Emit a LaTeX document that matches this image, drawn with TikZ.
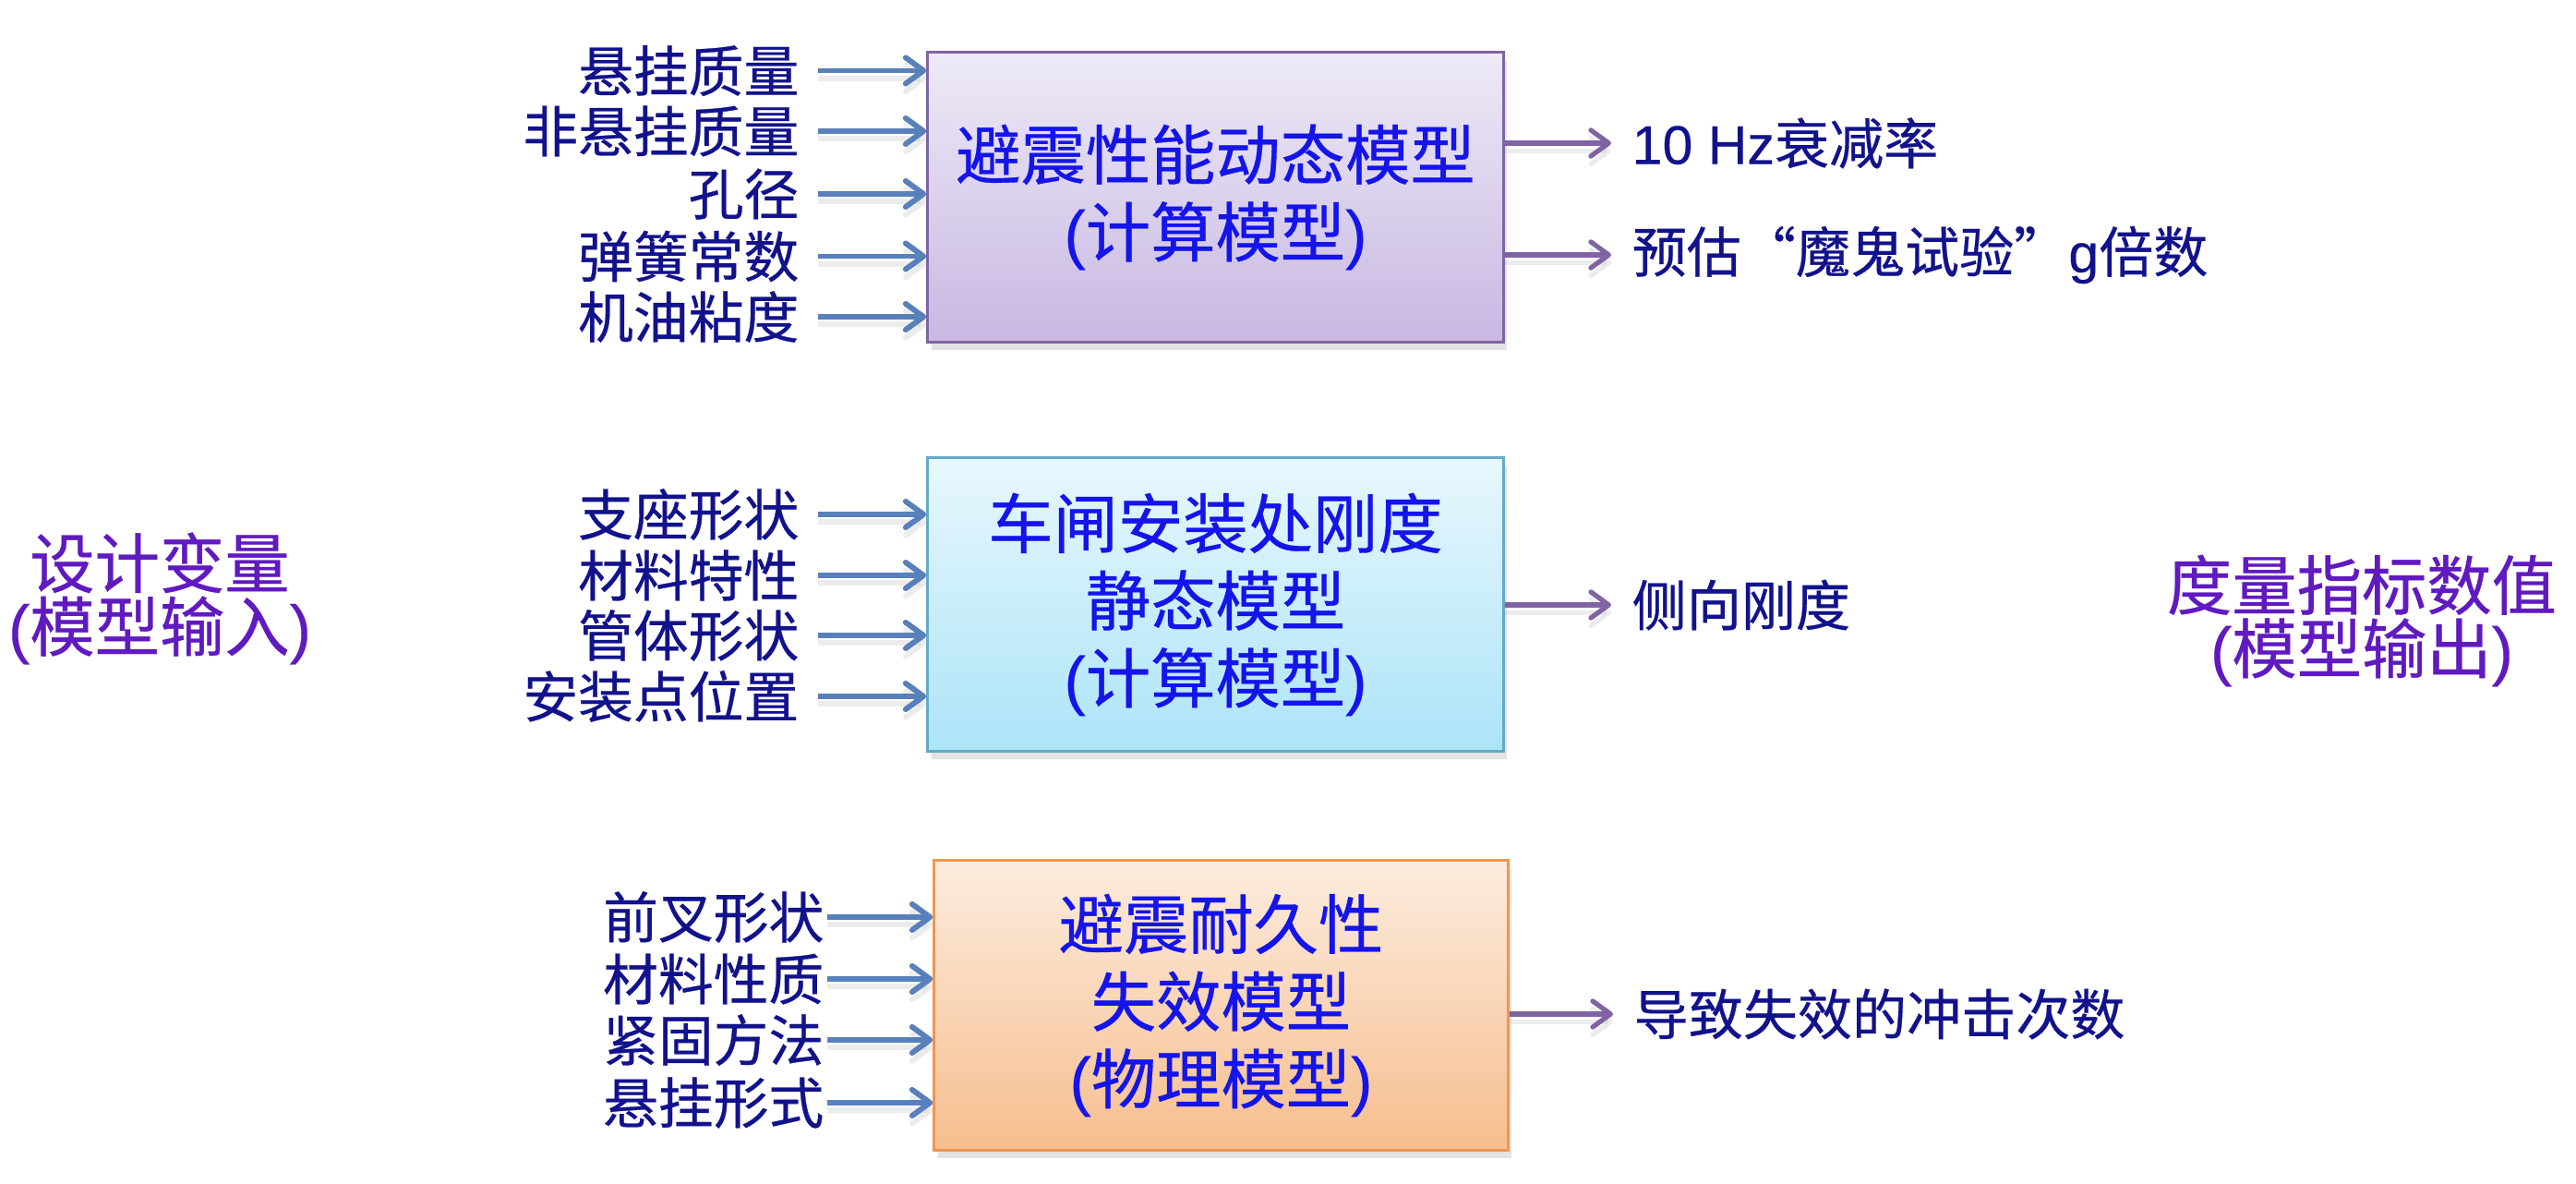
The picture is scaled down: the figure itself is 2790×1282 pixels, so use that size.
\documentclass[tikz,border=0pt]{standalone}
\usepackage{fontspec}
\setmainfont{Noto Sans CJK SC}[FakeBold=0.5]
\newfontfamily\latinfont{Liberation Sans}[FakeBold=0.3]
\usetikzlibrary{arrows.meta,shadows}

\newcommand{\latn}[1]{{\latinfont #1}}

\definecolor{labelnavy}{RGB}{18,18,140}
\definecolor{boxblue}{RGB}{20,20,235}
\definecolor{sidepurple}{RGB}{96,26,192}
\definecolor{inblue}{RGB}{88,128,186}
\definecolor{outpurple}{RGB}{128,100,162}
\definecolor{dynborder}{RGB}{128,100,162}
\definecolor{dyntop}{RGB}{238,234,247}
\definecolor{dynbot}{RGB}{200,184,226}
\definecolor{statborder}{RGB}{100,170,196}
\definecolor{stattop}{RGB}{232,247,253}
\definecolor{statbot}{RGB}{172,228,248}
\definecolor{durborder}{RGB}{240,150,80}
\definecolor{durtop}{RGB}{252,236,222}
\definecolor{durbot}{RGB}{246,190,142}

\tikzset{
  modelbox/.style={draw, line width=0.9pt, align=center, text=boxblue,
    font=\fontsize{20}{23.8}\selectfont, inner sep=0pt,
    drop shadow={opacity=0.22, shadow xshift=0.04cm, shadow yshift=-0.09cm}},
  inlabel/.style={anchor=east, inner sep=0pt, text=labelnavy,
    font=\fontsize{17}{20}\selectfont},
  outlabel/.style={anchor=west, inner sep=0pt, text=labelnavy,
    font=\fontsize{16.8}{20}\selectfont},
  sidelabel/.style={align=center, text=sidepurple, inner sep=0pt,
    font=\fontsize{20}{19.5}\selectfont},
  flowtip/.style={-{Straight Barb[length=5.5pt, width=8pt, line cap=round, line join=round]}},
  inarrow/.style={flowtip, draw=inblue, line width=1.7pt,
    preaction={draw=black!25, line width=1.7pt, transform canvas={yshift=-2.4pt}, opacity=0.3}},
  outarrow/.style={flowtip, draw=outpurple, line width=1.5pt,
    preaction={draw=black!25, line width=1.5pt, transform canvas={yshift=-2.4pt}, opacity=0.3}},
}

\begin{document}
\begin{tikzpicture}[x=0.01cm, y=-0.01cm]
\useasboundingbox (0,0) rectangle (2790,1282);

% model blocks
\node[modelbox, draw=dynborder, top color=dyntop, bottom color=dynbot,
  minimum width=6.23cm, minimum height=3.13cm] (dyn) at (1316.5,213.5)
  {避震性能动态模型\\\latn{(}计算模型\latn{)}};
\node[modelbox, draw=statborder, top color=stattop, bottom color=statbot,
  minimum width=6.23cm, minimum height=3.17cm] (stat) at (1316.5,654.5)
  {车闸安装处刚度\\静态模型\\\latn{(}计算模型\latn{)}};
\node[modelbox, draw=durborder, top color=durtop, bottom color=durbot,
  minimum width=6.21cm, minimum height=3.13cm] (dur) at (1322.5,1088.5)
  {避震耐久性\\失效模型\\\latn{(}物理模型\latn{)}};

% side captions
\node[sidelabel] (inputs) at (173,648) {设计变量\\\latn{(}模型输入\latn{)}};
\node[sidelabel] (outputs) at (2558,672) {度量指标数值\\\latn{(}模型输出\latn{)}};

% inputs of the dynamic model
\node[inlabel] (d1) at (866,76.5) {悬挂质量};
\node[inlabel] (d2) at (866,142) {非悬挂质量};
\node[inlabel] (d3) at (866,210) {孔径};
\node[inlabel] (d4) at (866,277.5) {弹簧常数};
\node[inlabel] (d5) at (866,343) {机油粘度};
\foreach \n in {d1,d2,d3,d4,d5}
  \draw[inarrow] ([xshift=0.2cm]\n.east) -- (\n.east -| dyn.west);

% inputs of the static model
\node[inlabel] (s1) at (866,557) {支座形状};
\node[inlabel] (s2) at (866,623) {材料特性};
\node[inlabel] (s3) at (866,688) {管体形状};
\node[inlabel] (s4) at (866,754) {安装点位置};
\foreach \n in {s1,s2,s3,s4}
  \draw[inarrow] ([xshift=0.2cm]\n.east) -- (\n.east -| stat.west);

% inputs of the durability model
\node[inlabel] (f1) at (893,993) {前叉形状};
\node[inlabel] (f2) at (893,1060) {材料性质};
\node[inlabel] (f3) at (893,1126) {紧固方法};
\node[inlabel] (f4) at (893,1194) {悬挂形式};
\foreach \n in {f1,f2,f3,f4}
  \draw[inarrow] ([xshift=0.03cm]\n.east) -- (\n.east -| dur.west);

% outputs
\node[outlabel] (o1) at (1767,155) {\latn{10 Hz}衰减率};
\node[outlabel] (o2) at (1767,276) {预估“魔鬼试验”\latn{g}倍数};
\node[outlabel] (o3) at (1767,655) {侧向刚度};
\node[outlabel] (o4) at (1769,1098) {导致失效的冲击次数};
\draw[outarrow] (o1.west -| dyn.east) -- ([xshift=-0.22cm]o1.west);
\draw[outarrow] (o2.west -| dyn.east) -- ([xshift=-0.22cm]o2.west);
\draw[outarrow] (o3.west -| stat.east) -- ([xshift=-0.22cm]o3.west);
\draw[outarrow] (o4.west -| dur.east) -- ([xshift=-0.22cm]o4.west);
\end{tikzpicture}
\end{document}
